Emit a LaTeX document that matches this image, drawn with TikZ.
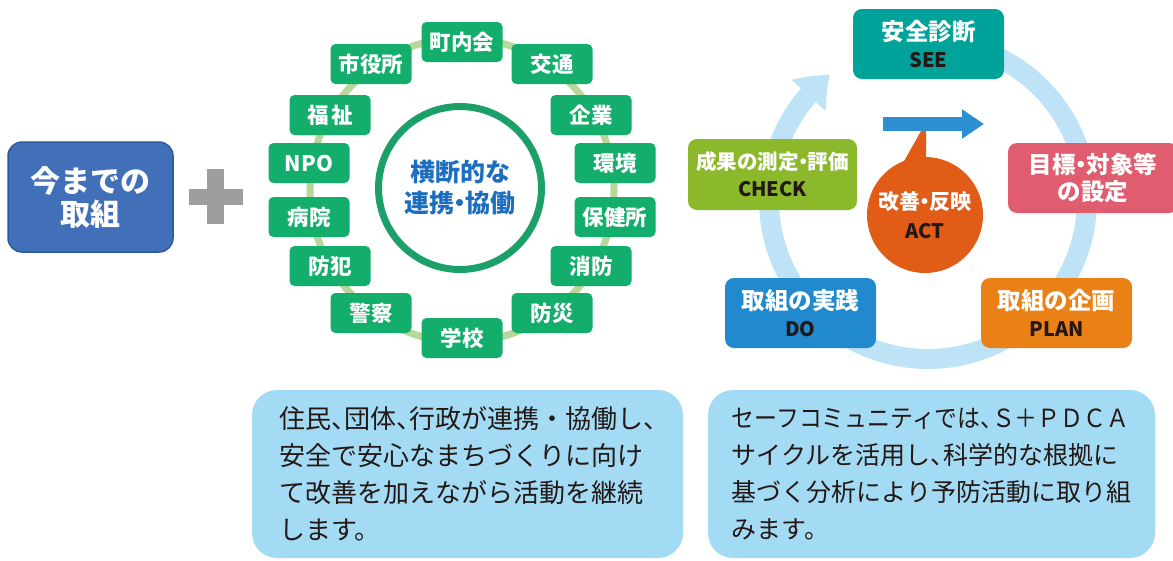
\documentclass[tikz,border=0pt]{standalone}
\usepackage{fontspec}
\setmainfont{Noto Sans CJK JP}
\usetikzlibrary{arrows.meta,bending}
\definecolor{leftblue}{HTML}{4170B8}
\definecolor{leftblueline}{HTML}{2D5A9E}
\definecolor{plusgray}{HTML}{9E9E9E}
\definecolor{gnodefill}{HTML}{13AD6C}
\definecolor{ringgreen}{HTML}{B7D79B}
\definecolor{circgreen}{HTML}{1BA06A}
\definecolor{circtext}{HTML}{1D6EC0}
\definecolor{seeteal}{HTML}{00A29A}
\definecolor{tgtpink}{HTML}{DF5D6F}
\definecolor{planorange}{HTML}{EA8117}
\definecolor{doblue}{HTML}{2189CE}
\definecolor{checkgreen}{HTML}{8CB92B}
\definecolor{actorange}{HTML}{E05C17}
\definecolor{arrowblue}{HTML}{2B8FD1}
\definecolor{cyclering}{HTML}{BFE3F6}
\definecolor{infofill}{HTML}{A4DBF4}
\definecolor{darktext}{HTML}{231815}
\newcommand\hten{\makebox[0.5em][l]{、}}
\newcommand\hdot{\makebox[0.45em][c]{・}}
\tikzset{
  leftbox/.style={rectangle, rounded corners=14pt, fill=leftblue, draw=leftblueline, line width=1.5pt,
    minimum width=165pt, minimum height=110pt, inner sep=0pt, align=center, text=white,
    font=\bfseries\fontsize{30}{33}\selectfont},
  gnode/.style={rectangle, rounded corners=5pt, fill=gnodefill, text=white, minimum width=81pt,
    minimum height=40pt, inner sep=0pt, font=\bfseries\fontsize{21.5}{21}\selectfont},
  centercircle/.style={circle, draw=circgreen, line width=7pt, fill=white, minimum size=163pt,
    inner sep=0pt, align=center, text=circtext, font=\bfseries\fontsize{25}{31}\selectfont},
  cbox/.style={rectangle, rounded corners=9pt, text=white, inner sep=0pt, align=center,
    minimum width=151pt, minimum height=70pt, font=\bfseries\fontsize{23.5}{27}\selectfont},
  infobox/.style={rectangle, rounded corners=25pt, fill=infofill, inner sep=0pt, align=left,
    text=darktext},
}
\newcommand\en[1]{{\color{darktext}\fontsize{20}{27}\selectfont #1}}
\begin{document}
\begin{tikzpicture}[x=1pt,y=-1pt]
\clip (0,0) rectangle (1173,560);
\fill[white] (0,0) rectangle (1173,560);

% left box and plus
\node[leftbox] (ima) at (90.5,197) {今までの\\取組};
\fill[plusgray] (189,189) rectangle (243,205);
\fill[plusgray] (207,169) rectangle (224,224);

% green ring of partners
\draw[ringgreen, line width=7pt] (462,190) circle[radius=152];
\node[centercircle] (ctr) at (460,188) {横断的な\\連携\hdot 協働};
\node[gnode] (chonaikai) at (462,42) {町内会};
\node[gnode] (kotsu) at (552,64) {交通};
\node[gnode] (kigyo) at (591,115) {企業};
\node[gnode] (kankyo) at (615,163) {環境};
\node[gnode] (hokenjo) at (615,217) {保健所};
\node[gnode] (shobo) at (591,266) {消防};
\node[gnode] (bosai) at (552,313) {防災};
\node[gnode] (gakko) at (462,338) {学校};
\node[gnode] (keisatsu) at (371,313) {警察};
\node[gnode] (bohan) at (330,266) {防犯};
\node[gnode] (byoin) at (309,217) {病院};
\node[gnode] (npo) at (309,163) {NPO};
\node[gnode] (fukushi) at (330,115) {福\hspace{3pt}祉};
\node[gnode] (shiyakusho) at (371,64) {市役所};

% PDCA cycle ring
\draw[cyclering, line width=20pt, -{Triangle[bend,width=44pt,length=30pt]}]
  (928,200) ++(270:159) arc[start angle=270, end angle=592, radius=159];

\node[cbox, fill=seeteal] (see) at (928.5,44) {安全診断\\\en{SEE}};
\node[cbox, fill=tgtpink, minimum width=170pt] (target) at (1093,178) {目標\hdot 対象等\\の設定};
\node[cbox, fill=planorange] (plan) at (1056.5,313) {取組の企画\\\en{PLAN}};
\node[cbox, fill=doblue] (do) at (800.5,313) {取組の実践\\\en{DO}};
\node[cbox, fill=checkgreen, minimum width=169pt, minimum height=71pt,
  font=\bfseries\fontsize{20.5}{27}\selectfont] (check) at (772.5,174.5) {成果の測定\hdot 評価\\\en{CHECK}};

% ACT bubble and arrow
\fill[actorange] (903,163) -- (921,131) -- (926,131) -- (926,163) -- cycle;
\node[circle, fill=actorange, minimum size=116pt, inner sep=0pt, align=center, text=white,
  font=\bfseries\fontsize{21}{29}\selectfont] (act) at (925,215) {改善\hdot 反映\\\en{ACT}};
\coordinate (arA) at (883,124);
\coordinate (arB) at (984,124);
\draw[arrowblue, line width=14pt, -{Triangle[width=28pt,length=22pt]}] (arA) -- (arB);

% info boxes
\node[infobox, minimum width=431pt, minimum height=168pt,
  font=\fontsize{26}{37}\selectfont] (infoL) at (467.5,474)
  {住民\hten 団体\hten 行政が連携・協働し\hten\\安全で安心なまちづくりに向け\\て改善を加えながら活動を継続\\します。};
\node[infobox, minimum width=447pt, minimum height=168pt,
  font=\fontsize{25}{37}\selectfont] (infoR) at (931.5,474)
  {\scalebox{0.915}[1]{セーフコミュニティでは\hten Ｓ＋ＰＤＣＡ}\\サイクルを活用し\hten 科学的な根拠に\\基づく分析により予防活動に取り組\\みます。};
\end{tikzpicture}
\end{document}
